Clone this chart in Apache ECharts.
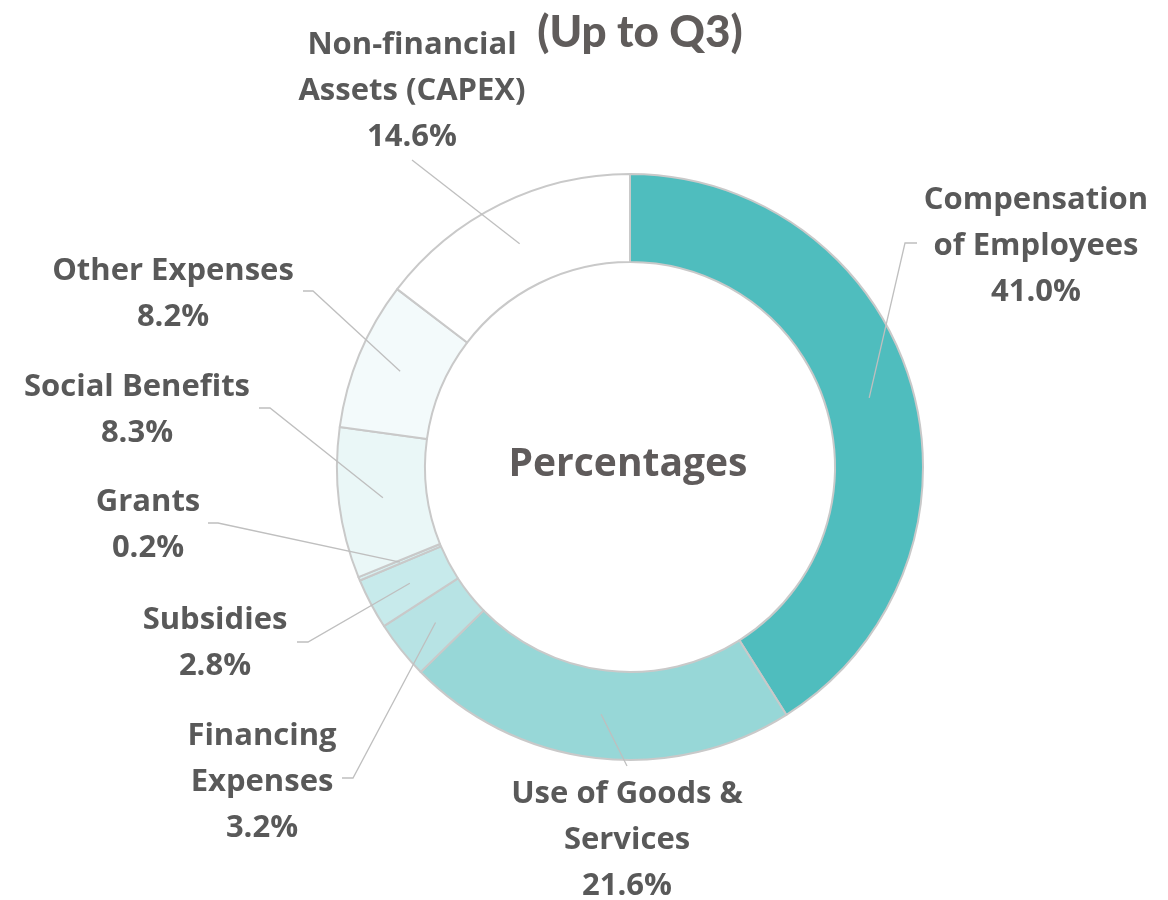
<!DOCTYPE html>
<html>
<head>
<meta charset="utf-8">
<script src="https://cdn.jsdelivr.net/npm/echarts@6/dist/echarts.min.js"></script>
<style>
html,body{margin:0;padding:0;background:#fff;}
#chart{width:1168px;height:900px;}
</style>
</head>
<body>
<div id="chart"></div>
<script>
// ---- data ----
const categories = [
  'Compensation\nof Employees',
  'Use of Goods &\nServices',
  'Financing\nExpenses',
  'Subsidies',
  'Grants',
  'Social Benefits',
  'Other Expenses',
  'Non-financial\nAssets (CAPEX)'
];
const values = [41.0, 21.6, 3.2, 2.8, 0.2, 8.3, 8.2, 14.6];
const sliceColors = ['#4FBDBE', '#97D7D7', '#B7E3E4', '#C7EAEB', '#D6EFF0', '#EAF7F7', '#F3FAFB', '#FFFFFF'];
const titleText = '(Up to Q3)';
const centerText = 'Percentages';

// ---- layout (positions, not data) ----
const CX = 630, CY = 467, R_IN = 205, R_OUT = 293;
const labelPos = [
  {x: 1036, y: 246, pts: [[905, 243], [917, 243]]},
  {x: 627, y: 840, pts: [[627, 766]]},
  {x: 262, y: 782, pts: [[353, 778], [342, 778]]},
  {x: 215, y: 643, pts: [[308, 642], [297, 642]]},
  {x: 148, y: 525, pts: [[218, 523], [208, 523]]},
  {x: 137, y: 410, pts: [[270, 408], [259, 408]]},
  {x: 173, y: 294, pts: [[313, 291], [303, 291]]},
  {x: 412, y: 91, pts: [[412, 160]]}
];

const total = values.reduce((a, b) => a + b, 0);
function anchor(i) {
  let before = 0;
  for (let k = 0; k < i; k++) before += values[k];
  const mid = (before + values[i] / 2) / total * Math.PI * 2;
  const r = (R_IN + R_OUT) / 2;
  return [CX + r * Math.sin(mid), CY - r * Math.cos(mid)];
}

const chart = echarts.init(document.getElementById('chart'));
const FONT = '"Open Sans", "DejaVu Sans", sans-serif';
const baseData = categories.map((c, i) => ({name: c, value: values[i], itemStyle: {color: sliceColors[i]}}));
const labelData = categories.map((c, i) => ({name: c, value: values[i]}));
chart.setOption({
  animation: false,
  backgroundColor: '#ffffff',
  title: [
    {
      text: titleText, left: 635, top: 28, textAlign: 'center', textVerticalAlign: 'middle',
      textStyle: {fontFamily: 'Lato, "Open Sans", sans-serif', fontWeight: 900, fontSize: 44, color: '#605C5B'}
    },
    {
      text: centerText, left: 623, top: 460, textAlign: 'center', textVerticalAlign: 'middle',
      textStyle: {fontFamily: FONT, fontWeight: 'bold', fontSize: 39, color: '#5F5B5B'}
    }
  ],
  series: [{
    type: 'pie',
    z: 2,
    center: [CX, CY],
    radius: [R_IN, R_OUT],
    startAngle: 90,
    clockwise: true,
    silent: true,
    itemStyle: {borderColor: '#C9C9C9', borderWidth: 2},
    label: {show: false},
    labelLine: {show: false},
    data: baseData
  }, {
    type: 'pie',
    z: 3,
    center: [CX, CY],
    radius: [R_IN, R_OUT],
    startAngle: 90,
    clockwise: true,
    avoidLabelOverlap: false,
    silent: true,
    itemStyle: {color: 'rgba(0,0,0,0)', borderWidth: 0},
    label: {
      show: true,
      position: 'outside',
      formatter: p => p.name + '\n' + p.value.toFixed(1) + '%',
      fontFamily: FONT,
      fontWeight: 'bold',
      fontSize: 31,
      lineHeight: 46,
      color: '#595959',
      align: 'center'
    },
    labelLine: {show: true, lineStyle: {color: '#BFBFBF', width: 1.3}},
    labelLayout: function (params) {
      const i = params.dataIndex;
      const lp = labelPos[i];
      return {
        x: lp.x, y: lp.y, align: 'center', verticalAlign: 'middle',
        labelLinePoints: [anchor(i)].concat(lp.pts)
      };
    },
    data: labelData
  }]
});
</script>
</body>
</html>
